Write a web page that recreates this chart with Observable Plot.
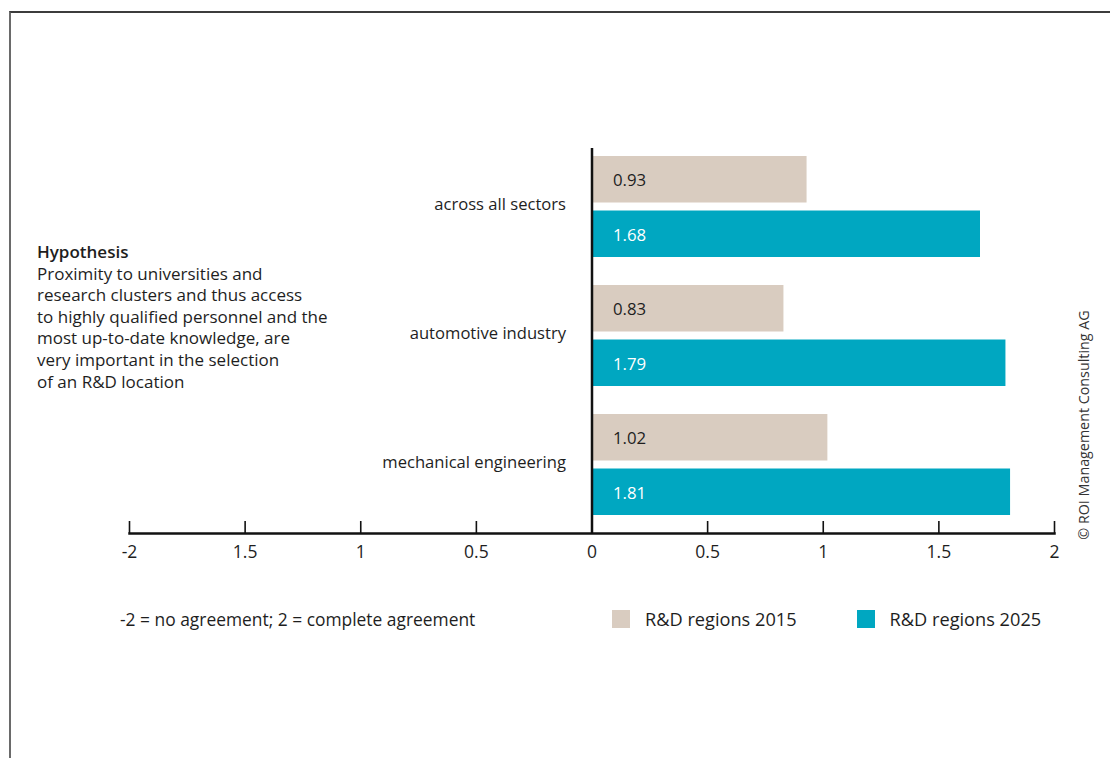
<!DOCTYPE html>
<html><head><meta charset="utf-8">
<script src="https://cdn.jsdelivr.net/npm/d3@7"></script>
<script src="https://cdn.jsdelivr.net/npm/@observablehq/plot@0.6"></script>
<style>
body{margin:0;background:#fff;font-family:"Open Sans",sans-serif;color:#1e1e1e}
#wrap{position:relative;width:1110px;height:758px;overflow:hidden;background:#fff}
#border{position:absolute;left:9px;top:11px;right:-10px;bottom:-10px;border-top:2px solid #3c3c3c;border-left:2px solid #6a6a6a;pointer-events:none}
#chart{position:absolute;left:0;top:0}
#hyp{position:absolute;left:37px;top:241px;font-size:17px;line-height:21.6px;width:330px;white-space:nowrap}
#hyp b{font-weight:600}
#note{position:absolute;left:120px;top:607px;font-size:17.4px}
#legend{position:absolute;left:612px;top:607px;font-size:18.2px;display:flex;align-items:center}
.item{display:flex;align-items:center;margin-right:60px}
.sw{width:18px;height:18px;margin-right:15px}
#copy{position:absolute;left:1083px;top:425px;font-size:14.3px;white-space:nowrap;transform:translate(-50%,-50%) rotate(-90deg);color:#333}
</style></head>
<body><div id="wrap"><div id="chart"></div><div id="border"></div>
<div id="hyp"></div><div id="note"></div><div id="legend"></div><div id="copy"></div></div>
<script>
const categories = ["across all sectors", "automotive industry", "mechanical engineering"];
const series = ["R&D regions 2015", "R&D regions 2025"];
const values2015 = [0.93, 0.83, 1.02];
const values2025 = [1.68, 1.79, 1.81];
const seriesColors = ["#d9ccc0", "#00a7c1"];
const xTicks = [-2, -1.5, -1, -0.5, 0, 0.5, 1, 1.5, 2];
const xTickLabels = ["-2", "1.5", "1", "0.5", "0", "0.5", "1", "1.5", "2"];
const hypothesisTitle = "Hypothesis";
const hypothesisLines = ["Proximity to universities and", "research clusters and thus access", "to highly qualified personnel and the", "most up-to-date knowledge, are", "very important in the selection", "of an R&D location"];
const scaleNote = "-2 = no agreement; 2 = complete agreement";
const copyright = "© ROI Management Consulting AG";

const rows = categories.flatMap((c, i) => [
  {category: c, series: series[0], value: values2015[i]},
  {category: c, series: series[1], value: values2025[i]}
]);
const r2015 = rows.filter(d => d.series === series[0]);
const r2025 = rows.filter(d => d.series === series[1]);
const half = 54.5, off = 27.25;

const plot = Plot.plot({
  width: 1110, height: 758,
  marginLeft: 129, marginRight: 56, marginTop: 148, marginBottom: 225,
  style: {fontFamily: "'Open Sans', sans-serif", fontSize: "16px", color: "#1e1e1e", background: "transparent"},
  x: {domain: [-2, 2], axis: null, label: null},
  y: {domain: categories, axis: null, label: null, paddingInner: 0.219, paddingOuter: 0.0983, align: 0.315},
  color: {domain: series, range: seriesColors},
  marks: [
    Plot.barX(r2015, {x: "value", y: "category", fill: "series", insetBottom: half}),
    Plot.barX(r2025, {x: "value", y: "category", fill: "series", insetTop: half}),
    Plot.text(r2015, {x: () => 0, y: "category", text: d => d.value.toFixed(2), dy: -off + 1, dx: 21, textAnchor: "start", fill: "#1e1e1e", fontSize: 16.8}),
    Plot.text(r2025, {x: () => 0, y: "category", text: d => d.value.toFixed(2), dy: off + 1, dx: 21, textAnchor: "start", fill: "white", fontSize: 16.8}),
    Plot.text(categories, {x: () => 0, y: d => d, text: d => d, dx: -26, dy: -2, textAnchor: "end", fill: "#1e1e1e", fontSize: 16.6}),
    Plot.ruleX([0], {stroke: "#111", strokeWidth: 2.5}),
    Plot.frame({anchor: "bottom", stroke: "#111", strokeWidth: 2.5}),
    Plot.axisX(xTicks, {anchor: "bottom", tickSize: -12, text: null, label: null, stroke: "#111", strokeWidth: 1.6}),
    Plot.axisX(xTicks, {anchor: "bottom", tickSize: 0, tickPadding: 12, label: null, tickFormat: d => xTickLabels[xTicks.indexOf(d)], fill: "#1e1e1e", fontSize: 17.5})
  ]
});
document.getElementById("chart").appendChild(plot);

const hyp = document.getElementById("hyp");
hyp.innerHTML = "<b>" + hypothesisTitle + "</b><br>" + hypothesisLines.map(s => s.replace("&", "&amp;")).join("<br>");
document.getElementById("note").textContent = scaleNote;
const lg = document.getElementById("legend");
series.forEach((s, i) => {
  const it = document.createElement("div"); it.className = "item";
  const sw = document.createElement("div"); sw.className = "sw"; sw.style.background = seriesColors[i];
  const t = document.createElement("span"); t.textContent = s;
  it.appendChild(sw); it.appendChild(t); lg.appendChild(it);
});
document.getElementById("copy").textContent = copyright;
</script></body></html>
